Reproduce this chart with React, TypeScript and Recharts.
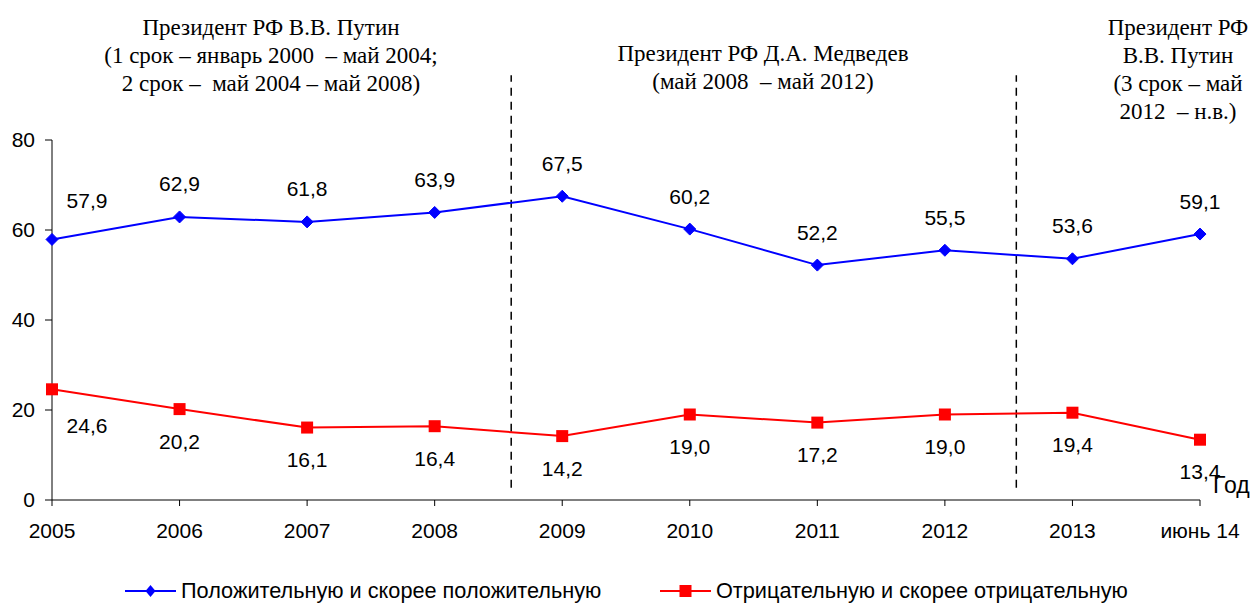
import React from 'react';
import { LineChart, Line, XAxis, YAxis, ReferenceLine, LabelList, Legend } from 'recharts';

const categories = ['2005', '2006', '2007', '2008', '2009', '2010', '2011', '2012', '2013', 'июнь 14'];
const positiveValues = [57.9, 62.9, 61.8, 63.9, 67.5, 60.2, 52.2, 55.5, 53.6, 59.1];
const negativeValues = [24.6, 20.2, 16.1, 16.4, 14.2, 19.0, 17.2, 19.0, 19.4, 13.4];
const yTicks = [0, 20, 40, 60, 80];
const positiveName = 'Положительную и скорее положительную';
const negativeName = 'Отрицательную и скорее отрицательную';
const termBoundaries = [3.6, 7.56];

const data = categories.map((c, i) => ({ x: i, label: c, pos: positiveValues[i], neg: negativeValues[i] }));

const SANS = '"Liberation Sans", Arial, sans-serif';
const SERIF = '"Liberation Serif", "Times New Roman", serif';
const FS = 21;

const fmt = (v: number) => v.toFixed(1).replace('.', ',');

const Diamond = (props: any) => {
  const { cx, cy } = props;
  if (cx == null || cy == null) return null;
  return <path d={`M${cx},${cy - 6} L${cx + 6},${cy} L${cx},${cy + 6} L${cx - 6},${cy} Z`} fill="#0000FF" stroke="#0000FF" />;
};
const Square = (props: any) => {
  const { cx, cy } = props;
  if (cx == null || cy == null) return null;
  return <rect x={cx - 6} y={cy - 6} width={12} height={12} fill="#FF0000" />;
};

const makeLabel = (above: boolean) => (props: any) => {
  const { x, y, value, index } = props;
  const dx = index === 0 ? 35 : 0;
  const dy = above ? (index === 0 ? -39 : -33) : (index === 0 ? 36 : 32);
  return (
    <text x={x + dx} y={y + dy} textAnchor="middle" dominantBaseline="central" fontFamily={SANS} fontSize={FS} fill="#000">
      {fmt(value)}
    </text>
  );
};

const LegendContent = () => (
  <div style={{ height: 24, position: 'relative', fontFamily: SANS, fontSize: 21.7, color: '#000' }}>
    <div style={{ position: 'absolute', left: 125, top: 0, height: 24, display: 'flex', alignItems: 'center', whiteSpace: 'nowrap' }}>
      <svg width={52} height={24}>
        <line x1={0} y1={12} x2={51} y2={12} stroke="#0000FF" strokeWidth={2} />
        <path d="M25.5,6 L30.5,12 L25.5,18 L20.5,12 Z" fill="#0000FF" />
      </svg>
      <span style={{ marginLeft: 4 }}>{positiveName}</span>
    </div>
    <div style={{ position: 'absolute', left: 660, top: 0, height: 24, display: 'flex', alignItems: 'center', whiteSpace: 'nowrap' }}>
      <svg width={52} height={24}>
        <line x1={0} y1={12} x2={51} y2={12} stroke="#FF0000" strokeWidth={2} />
        <rect x={19.5} y={6} width={12} height={12} fill="#FF0000" />
      </svg>
      <span style={{ marginLeft: 4 }}>{negativeName}</span>
    </div>
  </div>
);

const annoStyle: React.CSSProperties = {
  position: 'absolute',
  fontFamily: SERIF,
  fontSize: 23,
  lineHeight: '28px',
  textAlign: 'center',
  color: '#000',
  whiteSpace: 'pre',
  transform: 'translateX(-50%)',
};

export default function App() {
  return (
    <div style={{ position: 'absolute', left: 0, top: 0, width: 1255, height: 603, background: '#fff' }}>
      <LineChart width={1255} height={603} data={data} margin={{ top: 140, right: 55, bottom: 0, left: 0 }}>
        <XAxis
          type="number"
          dataKey="x"
          domain={[0, 9]}
          ticks={data.map((d) => d.x)}
          tickFormatter={(v: number) => categories[v]}
          interval={0}
          tickSize={6}
          tickMargin={17}
          height={79}
          stroke="#000"
          tick={{ fontFamily: SANS, fontSize: FS, fill: '#000' }}
          allowDecimals={false}
        />
        <YAxis
          domain={[0, 80]}
          ticks={yTicks}
          width={52}
          tickSize={7}
          tickMargin={10}
          stroke="#000"
          tick={{ fontFamily: SANS, fontSize: FS, fill: '#000' }}
        />
        {termBoundaries.map((b) => (
          <ReferenceLine
            key={b}
            segment={[{ x: b, y: 2.7 }, { x: b, y: 94.4 }]}
            ifOverflow="visible"
            stroke="#000"
            strokeWidth={1.5}
            strokeDasharray="8 6"
          />
        ))}
        <Line dataKey="pos" name={positiveName} stroke="#0000FF" strokeWidth={2} dot={<Diamond />} isAnimationActive={false}>
          <LabelList dataKey="pos" content={makeLabel(true)} />
        </Line>
        <Line dataKey="neg" name={negativeName} stroke="#FF0000" strokeWidth={2} dot={<Square />} isAnimationActive={false}>
          <LabelList dataKey="neg" content={makeLabel(false)} />
        </Line>
        <Legend verticalAlign="bottom" content={<LegendContent />} />
      </LineChart>
      <div style={{ ...annoStyle, left: 271, top: 14 }}>{'Президент РФ В.В. Путин\n(1 срок – январь 2000  – май 2004;\n2 срок –  май 2004 – май 2008)'}</div>
      <div style={{ ...annoStyle, left: 763, top: 40 }}>{'Президент РФ Д.А. Медведев\n(май 2008  – май 2012)'}</div>
      <div style={{ ...annoStyle, left: 1178, top: 14 }}>{'Президент РФ\nВ.В. Путин\n(3 срок – май\n2012  – н.в.)'}</div>
      <div style={{ position: 'absolute', left: 1213, top: 472, fontFamily: SANS, fontSize: 23, color: '#000' }}>Год</div>
    </div>
  );
}
